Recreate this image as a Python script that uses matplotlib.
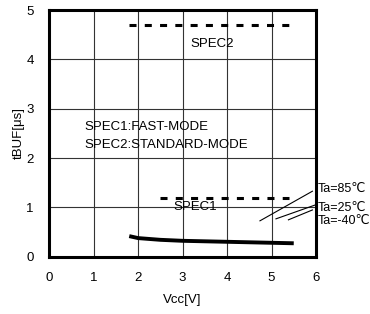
import matplotlib
matplotlib.use("Agg")
import matplotlib.pyplot as plt

# tBUF vs Vcc
vcc = [1.8, 2.0, 2.5, 3.0, 3.5, 4.0, 4.5, 5.0, 5.5]
tbuf = [0.42, 0.38, 0.345, 0.325, 0.315, 0.305, 0.295, 0.285, 0.275]

spec1_x = [2.5, 5.4]
spec1_y = [1.2, 1.2]
spec2_x = [1.8, 5.4]
spec2_y = [4.7, 4.7]

temp_labels = ["Ta=85\u2103", "Ta=25\u2103", "Ta=-40\u2103"]
label_y = [1.38, 0.99, 0.72]
lead_start = [(4.74, 0.73), (5.10, 0.77), (5.38, 0.75)]
lead_end = [(5.92, 1.33), (5.98, 1.05), (5.92, 0.95)]

plt.rcParams['font.family'] = ['Liberation Sans', 'DejaVu Sans']
fig = plt.figure(figsize=(3.7, 3.14), dpi=100)
ax = fig.add_axes([0.133, 0.182, 0.721, 0.786])

ax.plot(vcc, tbuf, color='black', lw=2.8, solid_capstyle='butt')
ax.plot(spec1_x, spec1_y, color='black', lw=2.2, dashes=(2.3, 2.7))
ax.plot(spec2_x, spec2_y, color='black', lw=2.2, dashes=(2.3, 2.7))

fs = 9.5
ax.text(3.66, 4.32, "SPEC2", fontsize=fs, ha='center', va='center')
ax.text(3.28, 1.02, "SPEC1", fontsize=fs, ha='center', va='center')
ax.text(0.8, 2.63, "SPEC1:FAST-MODE", fontsize=fs, va='center')
ax.text(0.8, 2.27, "SPEC2:STANDARD-MODE", fontsize=fs, va='center')

for lab, ly, s, e in zip(temp_labels, label_y, lead_start, lead_end):
    ax.plot([s[0], e[0]], [s[1], e[1]], color='black', lw=0.8, clip_on=False)
    ax.text(6.04, ly, lab, fontsize=9, va='center', clip_on=False)

ax.set_xlim(0, 6)
ax.set_ylim(0, 5)
ax.set_xticks(range(0, 7))
ax.set_yticks(range(0, 6))
ax.grid(True, color='#333333', lw=0.8)
ax.tick_params(length=0, labelsize=fs, pad=11)
for sp in ax.spines.values():
    sp.set_linewidth(2.2)

ax.set_xlabel("Vcc[V]", fontsize=fs, labelpad=7)
ax.set_ylabel("tBUF[\u03bcs]", fontsize=fs, labelpad=1)

fig.savefig("out.png", dpi=100)
